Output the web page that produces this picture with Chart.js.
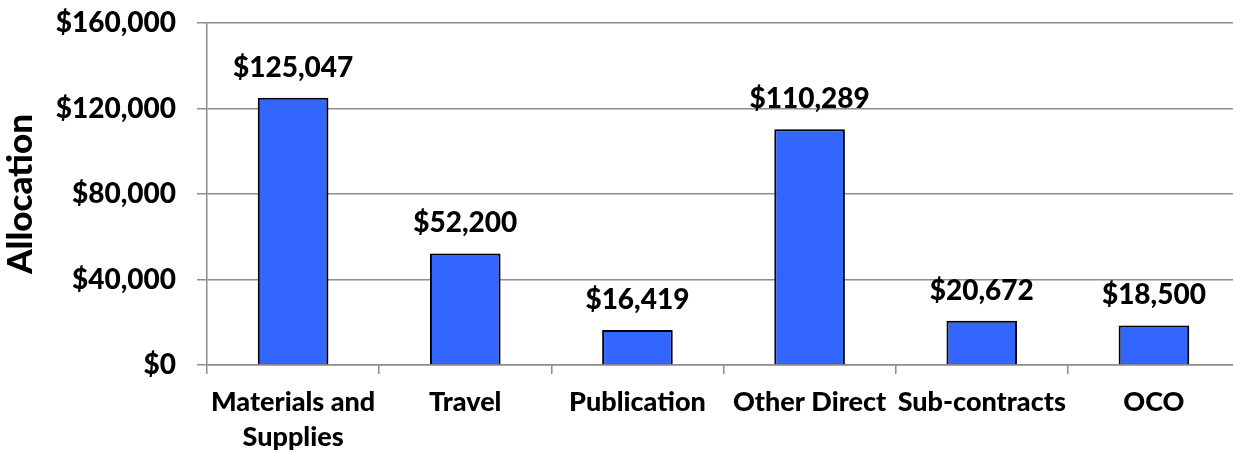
<!DOCTYPE html>
<html>
<head>
<meta charset="utf-8">
<script src="https://cdn.jsdelivr.net/npm/chart.js@4"></script>
<style>
  html, body { margin: 0; padding: 0; background: #fff; overflow: hidden; }
</style>
</head>
<body>
<canvas id="c" width="1240" height="453"></canvas>
<script>
var categories = [["Materials and", "Supplies"], "Travel", "Publication", "Other Direct", "Sub-contracts", "OCO"];
var allocation = [125047, 52200, 16419, 110289, 20672, 18500];
var yTicks = [0, 40000, 80000, 120000, 160000];

var FONT = "Lato, 'Open Sans', sans-serif";
var WEIGHT = "900";

function money(v) {
  return "$" + v.toLocaleString("en-US");
}

// draw value labels above the bars
var barLabels = {
  id: "barLabels",
  afterDatasetsDraw: function(chart) {
    var ctx = chart.ctx;
    var meta = chart.getDatasetMeta(0);
    ctx.save();
    ctx.font = WEIGHT + " 28px " + FONT;
    ctx.fillStyle = "#000";
    ctx.textAlign = "center";
    ctx.textBaseline = "middle";
    meta.data.forEach(function(bar, i) {
      ctx.fillText(money(allocation[i]), bar.x, bar.y - 30);
    });
    ctx.restore();
  }
};

// soft shadow behind bars
var barShadow = {
  id: "barShadow",
  beforeDatasetDraw: function(chart) {
    var ctx = chart.ctx;
    ctx.save();
    ctx.shadowColor = "rgba(0,0,0,0.25)";
    ctx.shadowBlur = 4;
    ctx.shadowOffsetX = 2;
    ctx.shadowOffsetY = 1;
  },
  afterDatasetDraw: function(chart) {
    chart.ctx.restore();
  }
};

new Chart(document.getElementById("c"), {
  type: "bar",
  data: {
    labels: categories,
    datasets: [{
      data: allocation,
      backgroundColor: "#3366FF",
      borderColor: "#000",
      borderWidth: 2,
      barPercentage: 0.41,
      categoryPercentage: 1
    }]
  },
  options: {
    responsive: false,
    animation: false,
    layout: { padding: { top: 23, right: 0, bottom: 0, left: 0 } },
    plugins: {
      legend: { display: false },
      tooltip: { enabled: false }
    },
    scales: {
      x: {
        offset: true,
        grid: {
          offset: true,
          drawOnChartArea: false,
          drawTicks: true,
          tickLength: 9,
          color: "#8c8c8c",
          lineWidth: 1.5
        },
        border: { color: "#8c8c8c", width: 1.5 },
        ticks: {
          color: "#000",
          font: { family: FONT, weight: WEIGHT, size: 27, lineHeight: 1.3 },
          padding: 11,
          maxRotation: 0,
          autoSkip: false
        },
        afterFit: function(scale) { scale.height = 88; }
      },
      y: {
        min: 0,
        max: 160000,
        afterBuildTicks: function(scale) {
          scale.ticks = yTicks.map(function(v) { return { value: v }; });
        },
        grid: {
          color: "#8c8c8c",
          lineWidth: 1.5,
          tickLength: 10
        },
        border: { color: "#8c8c8c", width: 1.5 },
        ticks: {
          color: "#000",
          font: { family: FONT, weight: WEIGHT, size: 28 },
          padding: 21,
          callback: function(v) { return money(v); }
        },
        title: {
          display: true,
          text: "Allocation",
          color: "#000",
          font: { family: FONT, weight: WEIGHT, size: 35 },
          padding: { top: 0, bottom: 4 }
        },
        afterFit: function(scale) {
          scale.width = 207;
          // tick padding should not push the plot area down
          scale.paddingTop = 10;
          scale.paddingBottom = 10;
        }
      }
    }
  },
  plugins: [barShadow, barLabels]
});
</script>
</body>
</html>
